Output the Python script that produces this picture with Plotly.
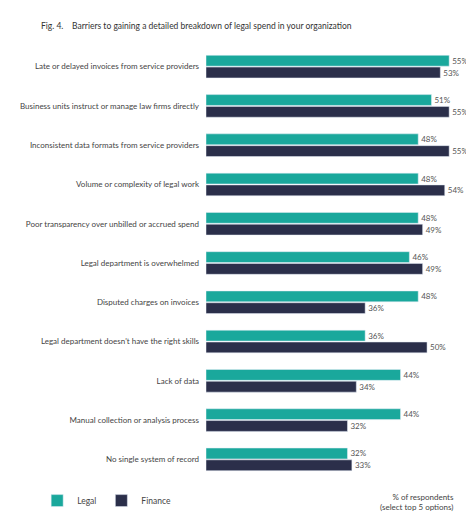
import plotly.graph_objects as go

categories = ["Late or delayed invoices from service providers",
    "Business units instruct or manage law firms directly",
    "Inconsistent data formats from service providers",
    "Volume or complexity of legal work",
    "Poor transparency over unbilled or accrued spend",
    "Legal department is overwhelmed",
    "Disputed charges on invoices",
    "Legal department doesn't have the right skills",
    "Lack of data",
    "Manual collection or analysis process",
    "No single system of record"]
legal = [55, 51, 48, 48, 48, 46, 48, 36, 44, 44, 32]
finance = [53, 55, 55, 54, 49, 49, 36, 50, 34, 32, 33]

teal = "#1aa89c"
navy = "#2b2f4a"
fig = go.Figure()
for name, vals, col in [("Legal", legal, teal), ("Finance", finance, navy)]:
    fig.add_trace(go.Bar(y=categories, x=vals, name=name, orientation="h",
        marker_color=col, text=[f"{v}%" for v in vals], textposition="outside",
        textfont=dict(size=8, color="#555"), cliponaxis=False))

fig.update_layout(
    width=474, height=520, barmode="group", bargap=0.4, bargroupgap=0.08,
    margin=dict(l=188, r=24, t=39, b=49),
    paper_bgcolor="white", plot_bgcolor="white",
    font=dict(family="Lato, Noto Sans, sans-serif", color="#444", size=8),
    xaxis=dict(range=[0, 57], visible=False),
    yaxis=dict(autorange="reversed", ticks="", showline=False, showgrid=False,
               tickfont=dict(size=8, color="#444"), ticklabelstandoff=6),
    legend=dict(orientation="h", x=-0.67, y=-0.05, xanchor="left", yanchor="middle",
                font=dict(size=8.5), traceorder="normal"),
    showlegend=True,
)
fig.add_annotation(xref="paper", yref="paper", x=-0.664, y=1.049, xanchor="left",
    yanchor="middle", showarrow=False, align="left",
    text="Fig. 4.&nbsp;&nbsp;&nbsp;&nbsp;Barriers to gaining a detailed breakdown of legal spend in your organization",
    font=dict(size=8.5, color="#333"))
fig.add_annotation(xref="paper", yref="paper", x=0.992, y=-0.053, xanchor="right",
    yanchor="middle", showarrow=False, align="right",
    text="% of respondents<br>(select top 5 options)", font=dict(size=8, color="#444"))
fig.write_html("out.html")
